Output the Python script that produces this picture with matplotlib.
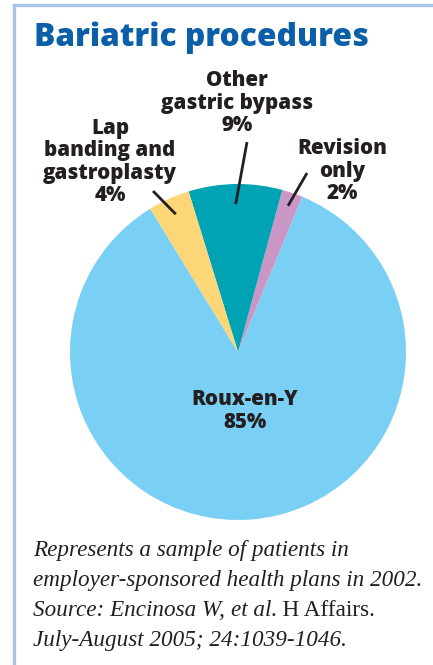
import numpy as np
import matplotlib.pyplot as plt
from matplotlib.lines import Line2D

# data, in drawing order (counterclockwise)
labels = ['Roux-en-Y', 'Revision\nonly', 'Other\ngastric bypass', 'Lap\nbanding and\ngastroplasty']
shares = [85, 2, 9, 4]
colors = ['#7ad0f4', '#c996c6', '#00a3b4', '#fdd677']
title = 'Bariatric procedures'
note_lines = ['Represents a sample of patients in',
              'employer-sponsored health plans in 2002.',
              'July-August 2005; 24:1039-1046.']

W, H = 433, 665
fig = plt.figure(figsize=(W / 100, H / 100), dpi=100)

# light blue frame (top and left edges only)
fig.add_artist(Line2D([13.5 / W, 1], [1 - 5 / H, 1 - 5 / H], color='#a9c4e4', lw=2.4))
fig.add_artist(Line2D([13.5 / W, 13.5 / W], [0, 1 - 5 / H], color='#a9c4e4', lw=2.4))

fig.text(34 / W, 1 - 38 / H, title, color='#0b5ea8', fontsize=22.8,
         fontweight='heavy', family='Open Sans', va='center', ha='left')

# pie: center (238, 352) px, radius 168 px
cx, cy, r = 238, 352, 168
ax = fig.add_axes([(cx - r) / W, (H - cy - r) / H, 2 * r / W, 2 * r / H])
wedges, _ = ax.pie(shares, colors=colors, startangle=121.5, counterclock=True,
                   wedgeprops=dict(linewidth=0))
ax.set_xlim(-1, 1)
ax.set_ylim(-1, 1)
ax.axis('off')

def px(x, y):
    return ((x - cx) / r, (cy - y) / r)

lab_font = dict(fontsize=14.8, fontweight='heavy', family='Open Sans', color='#231f20',
                ha='center', va='center', linespacing=1.08)

# label text positions (pixel) and leader outer ends
text_pos = [(245, 411), (342, 171), (237, 103), (110, 162)]
leader_out = [None, (307, 173), (247, 142), (153, 191)]
leader_r = [None, 0.92, 0.88, 0.9]

for i, w in enumerate(wedges):
    txt = f'{labels[i]}\n{shares[i]}%'
    tx, ty = px(*text_pos[i])
    ax.text(tx, ty, txt, clip_on=False, **lab_font)
    if leader_out[i] is not None:
        mid = np.deg2rad((w.theta1 + w.theta2) / 2)
        ix, iy = leader_r[i] * np.cos(mid), leader_r[i] * np.sin(mid)
        ox, oy = px(*leader_out[i])
        ax.plot([ix, ox], [iy, oy], color='#231f20', lw=2.0, clip_on=False,
                solid_capstyle='butt')

# footnote
note_font = dict(fontsize=16.7, family='Liberation Serif', color='#231f20', va='baseline')
fig.text(33 / W, 1 - 556 / H, note_lines[0], style='italic', **note_font)
fig.text(33 / W, 1 - 586 / H, note_lines[1], style='italic', **note_font)
t1 = fig.text(33 / W, 1 - 616 / H, 'Source: Encinosa W, ', style='italic', **note_font)
renderer = fig.canvas.get_renderer()
bb = t1.get_window_extent(renderer)
t2 = fig.text(bb.x1 / W, 1 - 616 / H, 'et al', style='italic', **note_font)
bb = t2.get_window_extent(renderer)
fig.text(bb.x1 / W, 1 - 616 / H, '. H Affairs.', **note_font)
fig.text(33 / W, 1 - 646 / H, note_lines[2], style='italic', **note_font)

fig.savefig('out.png', dpi=100)
